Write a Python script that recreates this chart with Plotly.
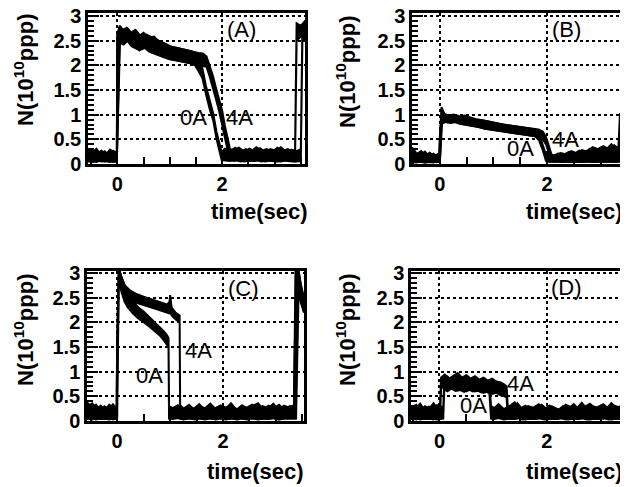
import plotly.graph_objects as go

# beam intensity N (1e10 ppp) vs time (s); each trace kept as lower/upper edge of the noisy band

# (A) 0A / 4A
a0_t = [-0.56, -0.48, -0.40, -0.32, -0.24, -0.16, -0.08, -0.01, 0.00, 0.04, 0.10, 0.18, 0.26, 0.34, 0.42, 0.50,
        0.60, 0.70, 0.80, 0.90, 1.00, 1.10, 1.20, 1.30, 1.40, 1.48, 1.54, 1.62, 1.69, 1.76, 1.83, 1.89,
        1.94, 1.99, 2.05, 2.15, 2.25, 2.35, 2.45, 2.55, 2.65, 2.75, 2.85, 2.95, 3.05, 3.15, 3.25, 3.35,
        3.39, 3.42, 3.50, 3.60]
a0_hi = [0.28, 0.22, 0.31, 0.20, 0.26, 0.18, 0.27, 0.22, 2.62, 2.78, 2.72, 2.76, 2.66, 2.72, 2.60, 2.66,
         2.56, 2.58, 2.47, 2.44, 2.38, 2.36, 2.33, 2.31, 2.29, 2.26, 2.14, 1.95, 1.58, 1.28, 1.02, 0.66,
         0.45, 0.24, 0.31, 0.26, 0.33, 0.24, 0.30, 0.25, 0.34, 0.27, 0.30, 0.24, 0.33, 0.26, 0.30, 0.25,
         0.30, 2.85, 2.80, 2.92]
a0_lo = [0.05, 0.06, 0.04, 0.07, 0.05, 0.06, 0.04, 0.05, 0.05, 2.48, 2.44, 2.52, 2.40, 2.36, 2.30, 2.38,
         2.28, 2.25, 2.20, 2.16, 2.12, 2.10, 2.08, 2.06, 2.04, 2.00, 1.90, 1.75, 1.42, 1.12, 0.88, 0.52,
         0.30, 0.08, 0.07, 0.06, 0.08, 0.05, 0.07, 0.06, 0.08, 0.05, 0.07, 0.06, 0.05, 0.07, 0.06, 0.05,
         0.05, 2.50, 2.58, 2.62]

a4_t = [-0.56, -0.47, -0.39, -0.30, -0.22, -0.14, -0.06, -0.01, 0.00, 0.05, 0.12, 0.20, 0.28, 0.36, 0.45, 0.55,
        0.65, 0.75, 0.85, 0.95, 1.05, 1.15, 1.25, 1.35, 1.45, 1.55, 1.63, 1.70, 1.76, 1.82, 1.88, 1.94,
        2.00, 2.05, 2.10, 2.15, 2.22, 2.32, 2.42, 2.52, 2.62, 2.72, 2.82, 2.92, 3.02, 3.12, 3.22, 3.32,
        3.42, 3.50, 3.53, 3.60]
a4_hi = [0.24, 0.30, 0.21, 0.27, 0.19, 0.29, 0.23, 0.25, 2.60, 2.80, 2.70, 2.74, 2.64, 2.70, 2.58, 2.62,
         2.57, 2.52, 2.46, 2.42, 2.37, 2.35, 2.32, 2.30, 2.27, 2.25, 2.24, 2.18, 2.00, 1.80, 1.55, 1.30,
         1.08, 0.78, 0.52, 0.30, 0.28, 0.33, 0.25, 0.31, 0.26, 0.32, 0.24, 0.30, 0.27, 0.34, 0.25, 0.29,
         0.26, 0.30, 2.75, 2.82]
a4_lo = [0.06, 0.04, 0.07, 0.05, 0.06, 0.04, 0.07, 0.05, 0.05, 2.46, 2.42, 2.50, 2.38, 2.34, 2.32, 2.36,
         2.26, 2.22, 2.18, 2.14, 2.11, 2.09, 2.07, 2.05, 2.03, 2.01, 1.99, 1.97, 1.78, 1.58, 1.32, 1.08,
         0.84, 0.55, 0.30, 0.10, 0.06, 0.08, 0.05, 0.07, 0.06, 0.08, 0.05, 0.07, 0.06, 0.05, 0.08, 0.06,
         0.05, 0.06, 2.48, 2.55]

# (B)
b0_t = [-0.52, -0.44, -0.36, -0.28, -0.20, -0.12, -0.05, -0.01, 0.00, 0.03, 0.08, 0.16, 0.26, 0.36, 0.46, 0.58,
        0.70, 0.82, 0.94, 1.06, 1.18, 1.30, 1.42, 1.54, 1.66, 1.78, 1.85, 1.92, 1.98, 2.05, 2.15, 2.25,
        2.35, 2.45, 2.55, 2.65, 2.75, 2.85, 2.95, 3.05, 3.15, 3.25, 3.33, 3.36, 3.40, 3.46, 3.52]
b0_hi = [0.34, 0.22, 0.18, 0.25, 0.16, 0.21, 0.15, 0.18, 0.55, 1.15, 1.02, 0.98, 1.00, 0.96, 0.98, 0.94,
         0.90, 0.88, 0.85, 0.82, 0.80, 0.78, 0.76, 0.74, 0.73, 0.70, 0.62, 0.40, 0.18, 0.20, 0.17, 0.22,
         0.20, 0.26, 0.22, 0.28, 0.25, 0.34, 0.30, 0.36, 0.30, 0.38, 0.32, 1.00, 0.98, 1.02, 0.97]
b0_lo = [0.04, 0.03, 0.05, 0.03, 0.04, 0.03, 0.05, 0.04, 0.04, 0.80, 0.85, 0.84, 0.86, 0.82, 0.80, 0.78,
         0.76, 0.72, 0.70, 0.67, 0.65, 0.63, 0.61, 0.60, 0.58, 0.56, 0.48, 0.28, 0.06, 0.04, 0.05, 0.04,
         0.05, 0.04, 0.05, 0.04, 0.05, 0.04, 0.05, 0.04, 0.05, 0.04, 0.05, 0.84, 0.86, 0.82, 0.85]

b4_t = [-0.52, -0.43, -0.35, -0.27, -0.19, -0.11, -0.04, -0.01, 0.00, 0.04, 0.10, 0.20, 0.30, 0.40, 0.52, 0.64,
        0.76, 0.88, 1.00, 1.12, 1.24, 1.36, 1.48, 1.60, 1.72, 1.84, 1.92, 1.98, 2.03, 2.08, 2.12, 2.20,
        2.30, 2.40, 2.50, 2.60, 2.70, 2.80, 2.90, 3.00, 3.10, 3.20, 3.30, 3.37, 3.40, 3.47, 3.52]
b4_hi = [0.28, 0.20, 0.26, 0.17, 0.23, 0.16, 0.20, 0.17, 0.50, 1.08, 1.00, 0.97, 0.99, 0.95, 0.93, 0.90,
         0.89, 0.86, 0.83, 0.81, 0.79, 0.77, 0.75, 0.73, 0.72, 0.70, 0.66, 0.55, 0.38, 0.20, 0.16, 0.21,
         0.18, 0.24, 0.20, 0.27, 0.23, 0.31, 0.26, 0.33, 0.29, 0.40, 0.28, 0.30, 0.96, 1.00, 0.95]
b4_lo = [0.03, 0.05, 0.04, 0.03, 0.05, 0.04, 0.03, 0.04, 0.04, 0.82, 0.86, 0.83, 0.85, 0.81, 0.79, 0.76,
         0.74, 0.71, 0.69, 0.66, 0.64, 0.62, 0.60, 0.59, 0.57, 0.55, 0.50, 0.40, 0.22, 0.06, 0.04, 0.05,
         0.04, 0.05, 0.04, 0.05, 0.04, 0.05, 0.04, 0.05, 0.04, 0.05, 0.04, 0.05, 0.82, 0.85, 0.83]

# (C)
c0_t = [-0.57, -0.48, -0.40, -0.32, -0.24, -0.16, -0.08, -0.01, 0.00, 0.03, 0.08, 0.14, 0.20, 0.30, 0.40, 0.50,
        0.60, 0.70, 0.80, 0.88, 0.94, 0.97, 0.98, 1.05, 1.15, 1.25, 1.35, 1.45, 1.55, 1.65, 1.75, 1.85,
        1.95, 2.05, 2.15, 2.25, 2.35, 2.45, 2.55, 2.65, 2.75, 2.85, 2.95, 3.05, 3.15, 3.25, 3.34, 3.37,
        3.42, 3.47, 3.53]
c0_hi = [0.38, 0.26, 0.33, 0.22, 0.30, 0.24, 0.34, 0.25, 1.50, 3.10, 2.92, 2.72, 2.55, 2.42, 2.30, 2.22,
         2.12, 2.02, 1.92, 1.82, 1.74, 1.68, 0.30, 0.26, 0.32, 0.22, 0.30, 0.25, 0.34, 0.23, 0.29, 0.26,
         0.31, 0.24, 0.36, 0.22, 0.30, 0.27, 0.33, 0.24, 0.30, 0.25, 0.35, 0.23, 0.31, 0.27, 0.32, 3.10,
         3.05, 2.80, 2.45]
c0_lo = [0.04, 0.06, 0.03, 0.05, 0.04, 0.06, 0.03, 0.05, 0.05, 2.90, 2.62, 2.42, 2.30, 2.18, 2.08, 2.00,
         1.92, 1.84, 1.74, 1.64, 1.55, 1.50, 0.05, 0.04, 0.06, 0.03, 0.05, 0.04, 0.06, 0.03, 0.05, 0.04,
         0.06, 0.03, 0.05, 0.04, 0.06, 0.03, 0.05, 0.04, 0.05, 0.04, 0.06, 0.03, 0.05, 0.04, 0.05, 0.05,
         2.70, 2.45, 2.20]

c4_t = [-0.57, -0.47, -0.39, -0.31, -0.23, -0.15, -0.07, -0.01, 0.00, 0.03, 0.08, 0.15, 0.25, 0.35, 0.50, 0.65,
        0.80, 0.94, 0.99, 1.00, 1.03, 1.10, 1.18, 1.19, 1.26, 1.36, 1.46, 1.56, 1.66, 1.76, 1.86, 1.96,
        2.06, 2.16, 2.26, 2.36, 2.46, 2.56, 2.66, 2.76, 2.86, 2.96, 3.06, 3.16, 3.26, 3.34, 3.38, 3.43,
        3.47, 3.53]
c4_hi = [0.30, 0.36, 0.24, 0.31, 0.21, 0.33, 0.26, 0.28, 1.60, 3.10, 2.92, 2.74, 2.64, 2.58, 2.52, 2.46,
         2.40, 2.36, 2.42, 2.55, 2.30, 2.20, 2.14, 0.32, 0.25, 0.33, 0.22, 0.30, 0.26, 0.35, 0.24, 0.31,
         0.27, 0.34, 0.23, 0.32, 0.25, 0.30, 0.36, 0.24, 0.31, 0.26, 0.33, 0.22, 0.30, 0.28, 3.10, 3.05,
         2.75, 2.50]
c4_lo = [0.05, 0.03, 0.06, 0.04, 0.05, 0.03, 0.06, 0.04, 0.05, 2.90, 2.70, 2.55, 2.45, 2.40, 2.35, 2.30,
         2.25, 2.20, 2.18, 2.30, 2.14, 2.06, 2.00, 0.05, 0.04, 0.06, 0.03, 0.05, 0.04, 0.06, 0.03, 0.05,
         0.04, 0.06, 0.03, 0.05, 0.04, 0.06, 0.03, 0.05, 0.04, 0.06, 0.03, 0.05, 0.04, 0.05, 0.05, 2.75,
         2.40, 2.20]

# (D)
d0_t = [-0.53, -0.44, -0.36, -0.28, -0.20, -0.12, -0.05, 0.07, 0.09, 0.15, 0.22, 0.30, 0.38, 0.46, 0.54, 0.62,
        0.70, 0.78, 0.86, 0.93, 0.96, 1.02, 1.10, 1.20, 1.30, 1.40, 1.50, 1.60, 1.70, 1.80, 1.90, 2.00,
        2.10, 2.20, 2.30, 2.40, 2.50, 2.60, 2.70, 2.80, 2.90, 3.00, 3.10, 3.20, 3.30, 3.38, 3.41, 3.46,
        3.51]
d0_hi = [0.30, 0.24, 0.35, 0.22, 0.29, 0.26, 0.32, 0.28, 0.84, 0.90, 0.82, 0.88, 0.80, 0.86, 0.83, 0.85,
         0.80, 0.84, 0.78, 0.80, 0.30, 0.26, 0.34, 0.24, 0.30, 0.38, 0.25, 0.31, 0.22, 0.28, 0.33, 0.24,
         0.29, 0.21, 0.30, 0.25, 0.34, 0.23, 0.28, 0.35, 0.26, 0.31, 0.24, 0.36, 0.27, 0.30, 1.02, 1.00,
         0.98]
d0_lo = [0.04, 0.06, 0.03, 0.05, 0.04, 0.06, 0.03, 0.05, 0.64, 0.60, 0.66, 0.61, 0.63, 0.59, 0.64, 0.60,
         0.62, 0.58, 0.60, 0.56, 0.05, 0.04, 0.06, 0.03, 0.05, 0.04, 0.06, 0.03, 0.05, 0.04, 0.06, 0.03,
         0.05, 0.04, 0.06, 0.03, 0.05, 0.04, 0.06, 0.03, 0.05, 0.04, 0.06, 0.03, 0.05, 0.04, 0.60, 0.55,
         0.58]

d4_t = [-0.53, -0.43, -0.35, -0.27, -0.19, -0.11, -0.04, 0.01, 0.03, 0.10, 0.18, 0.26, 0.34, 0.42, 0.50, 0.58,
        0.66, 0.74, 0.82, 0.90, 0.98, 1.06, 1.14, 1.21, 1.25, 1.27, 1.35, 1.45, 1.55, 1.65, 1.75, 1.85,
        1.95, 2.05, 2.15, 2.25, 2.35, 2.45, 2.55, 2.65, 2.75, 2.85, 2.95, 3.05, 3.15, 3.25, 3.35, 3.39,
        3.42, 3.47, 3.51]
d4_hi = [0.27, 0.33, 0.22, 0.30, 0.25, 0.36, 0.24, 0.30, 0.88, 0.94, 0.86, 0.92, 0.97, 0.88, 0.93, 0.86,
         0.91, 0.84, 0.88, 0.82, 0.86, 0.80, 0.78, 0.74, 0.70, 0.32, 0.25, 0.36, 0.23, 0.30, 0.27, 0.34,
         0.24, 0.31, 0.26, 0.22, 0.33, 0.28, 0.25, 0.37, 0.24, 0.30, 0.27, 0.34, 0.25, 0.31, 0.28, 0.30,
         1.04, 0.98, 1.00]
d4_lo = [0.05, 0.03, 0.06, 0.04, 0.05, 0.03, 0.06, 0.05, 0.66, 0.70, 0.64, 0.68, 0.62, 0.66, 0.60, 0.64,
         0.60, 0.62, 0.57, 0.60, 0.55, 0.57, 0.52, 0.50, 0.48, 0.05, 0.04, 0.06, 0.03, 0.05, 0.04, 0.06,
         0.03, 0.05, 0.04, 0.06, 0.03, 0.05, 0.04, 0.06, 0.03, 0.05, 0.04, 0.06, 0.03, 0.05, 0.04, 0.05,
         0.62, 0.58, 0.60]

panel_names = ["(A)", "(B)", "(C)", "(D)"]
series = [
    [(a0_t, a0_lo, a0_hi), (a4_t, a4_lo, a4_hi)],
    [(b0_t, b0_lo, b0_hi), (b4_t, b4_lo, b4_hi)],
    [(c0_t, c0_lo, c0_hi), (c4_t, c4_lo, c4_hi)],
    [(d0_t, d0_lo, d0_hi), (d4_t, d4_lo, d4_hi)],
]
# label positions (time, N) for panel name, 0A, 4A
label_pos = [
    [(2.36, 2.72), (1.46, 0.95), (2.33, 0.95)],
    [(2.37, 2.72), (1.50, 0.32), (2.35, 0.49)],
    [(2.38, 2.69), (0.62, 0.93), (1.53, 1.43)],
    [(2.37, 2.70), (0.64, 0.32), (1.51, 0.75)],
]

# the page body has an 8px margin, so the figure is sized to the visible part and laid out 8px up/left
OFF = 8
W, H = 628 - OFF, 487 - OFF
FONT = "Liberation Sans, Arial, sans-serif"


def px(x):
    return (x - OFF) / W


def py(y):
    return 1 - (y - OFF) / H


x_dom = [[px(88), px(305)], [px(412), 1.0], [px(87), px(304)], [px(411), 1.0]]
y_dom = [[py(164), py(13)], [py(164), py(13)], [py(421), py(271)], [py(421), py(271)]]
x_rng = [[-0.56, 3.58], [-0.52, 3.51], [-0.57, 3.53], [-0.53, 3.51]]
y_top = [3.06, 3.06, 3.04, 3.04]

fig = go.Figure()

for i in range(4):
    xa = "x" if i == 0 else f"x{i+1}"
    ya = "y" if i == 0 else f"y{i+1}"
    for t, lo, hi in series[i]:
        fig.add_trace(go.Scatter(
            x=t + t[::-1],
            y=hi + lo[::-1],
            xaxis=xa, yaxis=ya,
            mode="lines",
            fill="toself",
            fillcolor="black",
            line=dict(color="black", width=2),
            hoverinfo="skip",
            showlegend=False
        ))

    sfx = "" if i == 0 else str(i + 1)
    fig.layout["xaxis" + sfx] = dict(
        domain=x_dom[i], range=x_rng[i], anchor=ya, automargin=False,
        tickmode="linear", tick0=0, dtick=2,
        ticks="inside", ticklen=7, tickwidth=2, tickcolor="black",
        minor=dict(dtick=0.5, tick0=0, ticks="inside", ticklen=7, tickwidth=2, tickcolor="black"),
        showgrid=True, gridcolor="black", gridwidth=2, griddash="dot",
        zeroline=False, showline=True, mirror=True, linewidth=2.5, linecolor="black",
        tickfont=dict(family=FONT, size=20, color="black", weight="bold"),
        ticklabeloverflow="allow"
    )
    fig.layout["yaxis" + sfx] = dict(
        domain=y_dom[i], range=[0, y_top[i]], anchor=xa, automargin=False,
        tickmode="linear", tick0=0, dtick=0.5,
        ticks="inside", ticklen=11, tickwidth=2, tickcolor="black",
        minor=dict(dtick=0.1, tick0=0, ticks="inside", ticklen=6, tickwidth=1.5, tickcolor="black"),
        showgrid=True, gridcolor="black", gridwidth=2, griddash="dot",
        zeroline=False, showline=True, mirror=True, linewidth=2.5, linecolor="black",
        tickfont=dict(family=FONT, size=20, color="black", weight="bold"),
        ticklabeloverflow="allow"
    )

    texts = [panel_names[i], "0A", "4A"]
    for txt, (lx, ly) in zip(texts, label_pos[i]):
        fig.add_annotation(x=lx, y=ly, xref=xa, yref=ya, text=txt, showarrow=False,
                           xanchor="center", yanchor="middle",
                           font=dict(family=FONT, size=22, color="black"))

# axis titles (reference pixel positions)
for tx, ty in [(24, 70), (346, 72), (24, 330), (346, 330)]:
    fig.add_annotation(x=px(tx), y=py(ty), xref="paper", yref="paper",
                       text="<b>N(10<sup>10</sup>ppp)</b>", textangle=-90, showarrow=False,
                       xanchor="center", yanchor="middle",
                       font=dict(family=FONT, size=22, color="black"))
for tx, ty in [(310, 212), (625, 212), (306, 471), (625, 471)]:
    fig.add_annotation(x=px(tx), y=py(ty), xref="paper", yref="paper",
                       text="<b>time(sec)</b>", showarrow=False,
                       xanchor="right", yanchor="middle",
                       font=dict(family=FONT, size=22, color="black"))

fig.update_layout(
    width=W, height=H,
    margin=dict(l=0, r=0, t=0, b=0, autoexpand=False),
    paper_bgcolor="white", plot_bgcolor="white"
)

fig.write_html("out.html")
